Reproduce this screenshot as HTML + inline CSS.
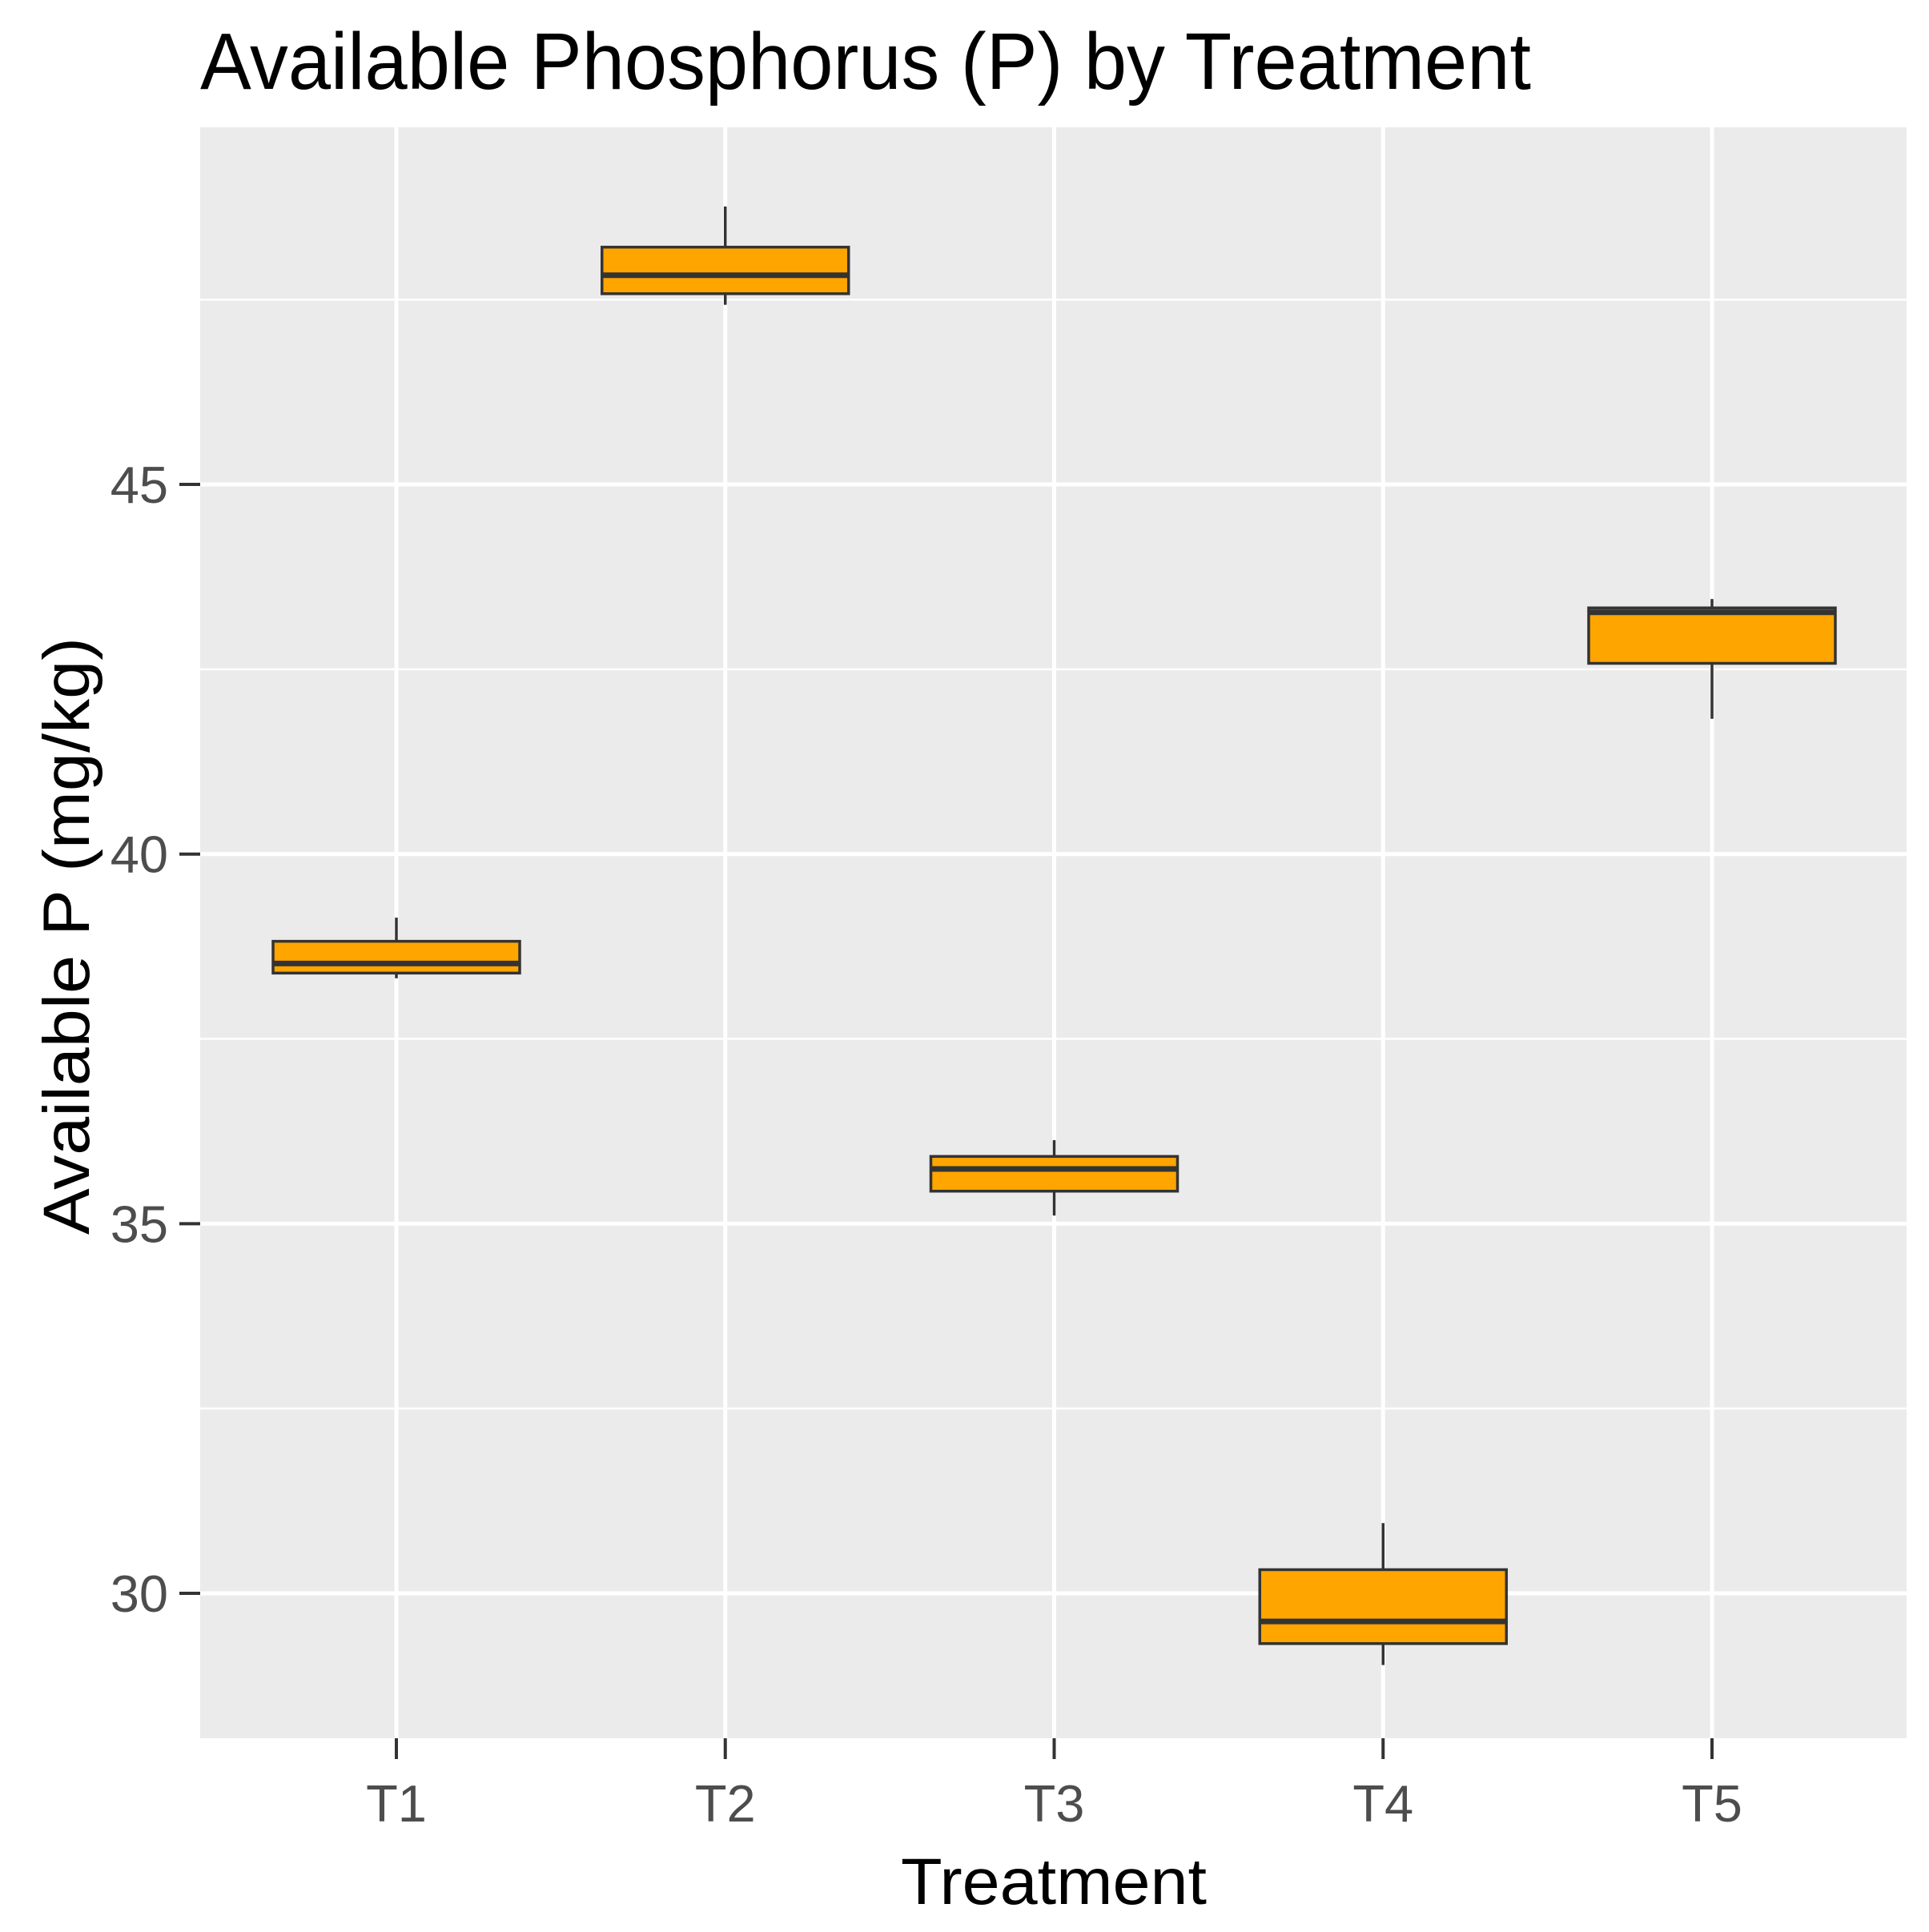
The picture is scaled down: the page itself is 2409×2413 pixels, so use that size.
<!DOCTYPE html>
<html><head><meta charset="utf-8"><style>
html,body{margin:0;padding:0;background:#fff;}
svg{display:block;font-family:"Liberation Sans",Arial,sans-serif;}
</style></head><body>
<svg id="chart" width="2409" height="2413" viewBox="0 0 2409 2413" xmlns="http://www.w3.org/2000/svg">
<rect x="0" y="0" width="2409" height="2413" fill="#fff"/>
<text x="250" y="111" font-size="100" fill="#000" textLength="1662" lengthAdjust="spacingAndGlyphs">Available Phosphorus (P) by Treatment</text>
<rect x="250" y="159" width="2131" height="2012" fill="#ebebeb"/>
<g id="grid"></g>
<g id="boxes"></g>
<g id="axes"></g>
<text x="1316" y="2378" font-size="82" fill="#000" text-anchor="middle" textLength="382" lengthAdjust="spacingAndGlyphs">Treatment</text>
<text x="0" y="0" transform="translate(111,1169) rotate(-90)" font-size="82" fill="#000" text-anchor="middle" textLength="746" lengthAdjust="spacingAndGlyphs">Available P (mg/kg)</text>
</svg>
<script>
const categories = ["T1","T2","T3","T4","T5"];
const whiskerLow = [38.32, 47.43, 35.11, 29.03, 41.83];
const q1 = [38.39, 47.58, 35.44, 29.32, 42.58];
const medians = [38.52, 47.83, 35.74, 29.62, 43.27];
const q3 = [38.82, 48.21, 35.91, 30.32, 43.33];
const whiskerHigh = [39.14, 48.76, 36.13, 30.95, 43.45];
const yTicks = [30, 35, 40, 45];
const yMinor = [32.5, 37.5, 42.5, 47.5];

const NS = "http://www.w3.org/2000/svg";
const PL = 250, PR = 2381, PT = 159, PB = 2171;
function xs(i){ return 495 + 410.75 * i; }
function ys(v){ return 1990 - 92.33 * (v - 30); }
function mk(tag, attrs, parent){
  const e = document.createElementNS(NS, tag);
  for (const k in attrs) e.setAttribute(k, attrs[k]);
  parent.appendChild(e);
  return e;
}
const grid = document.getElementById("grid");
const boxes = document.getElementById("boxes");
const axes = document.getElementById("axes");

yMinor.forEach(v => {
  const l = mk("line", {x1:PL, x2:PR, y1:ys(v), y2:ys(v), stroke:"#fff", "stroke-width":2.5}, grid);
  
  
});
yTicks.forEach(v => {
  const l = mk("line", {x1:PL, x2:PR, y1:ys(v), y2:ys(v), stroke:"#fff", "stroke-width":5}, grid);
  
  
  const t = mk("line", {x1:PL-26, x2:PL, y1:ys(v), y2:ys(v), stroke:"#333", "stroke-width":4}, axes);
  
  
  const tx = mk("text", {x:PL-40, y:ys(v)+23, "font-size":65, fill:"#4d4d4d", "text-anchor":"end"}, axes);
  tx.textContent = v;
  
  
});
categories.forEach((c, i) => {
  const x = xs(i);
  const l = mk("line", {x1:x, x2:x, y1:PT, y2:PB, stroke:"#fff", "stroke-width":5}, grid);
  
  
  const t = mk("line", {x1:x, x2:x, y1:PB, y2:PB+26, stroke:"#333", "stroke-width":4}, axes);
  
  
  const tx = mk("text", {x:x, y:2275, "font-size":65, fill:"#4d4d4d", "text-anchor":"middle"}, axes);
  tx.textContent = c;
  
  

  const g = mk("g", {}, boxes);
  
  
  const w1 = mk("line", {x1:x, x2:x, y1:ys(whiskerHigh[i]), y2:ys(q3[i]), stroke:"#333", "stroke-width":3.5}, g);
  
  
  const w2 = mk("line", {x1:x, x2:x, y1:ys(q1[i]), y2:ys(whiskerLow[i]), stroke:"#333", "stroke-width":3.5}, g);
  
  
  const hw = 154;
  const r = mk("rect", {x:x-hw, y:ys(q3[i]), width:2*hw, height:ys(q1[i])-ys(q3[i]), fill:"#ffa500", stroke:"#333", "stroke-width":3.5}, g);
  
  
  const m = mk("line", {x1:x-hw, x2:x+hw, y1:ys(medians[i]), y2:ys(medians[i]), stroke:"#333", "stroke-width":7}, g);
  
  
});
</script>
</body></html>
